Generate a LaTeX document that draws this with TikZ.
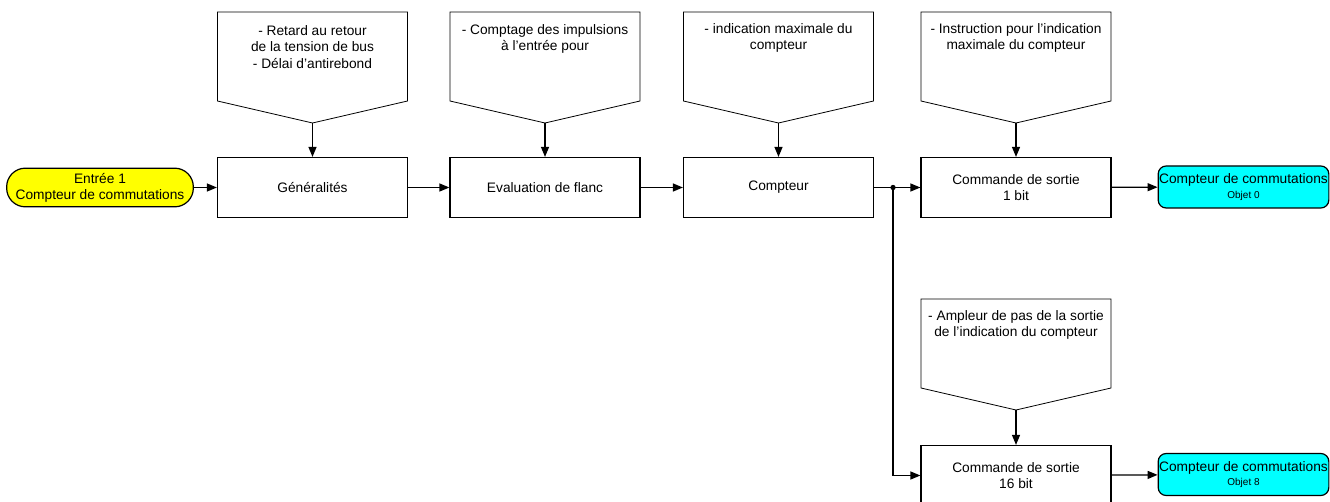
\documentclass[tikz,border=0pt]{standalone}
\usepackage{fontspec}
\setmainfont{Liberation Sans}
\usetikzlibrary{arrows.meta}
\definecolor{aqua}{RGB}{0,255,255}
\definecolor{lemon}{RGB}{255,255,0}

\tikzset{
  blk/.style={draw, line width=0.9pt, minimum width=142.5pt, minimum height=45pt, inner sep=0pt, align=center, font=\fontsize{10.3}{12}\selectfont},
  note/.style={anchor=north, align=center, inner sep=0pt, font=\fontsize{10.3}{12.4}\selectfont},
  start/.style={draw, line width=0.9pt, fill=lemon, rounded corners=14pt, minimum width=140pt, minimum height=29pt, inner sep=0pt, align=center, font=\fontsize{10.3}{12}\selectfont},
  obj/.style={draw, line width=0.9pt, fill=aqua, rounded corners=6pt, minimum width=128pt, minimum height=31.5pt, inner sep=0pt, align=center, font=\fontsize{10.3}{11}\selectfont},
  arr/.style={-{Triangle[length=7.5pt,width=6pt]}, line width=0.9pt}
}

\begin{document}
\begin{tikzpicture}[x=0.75pt, y=-0.75pt]
\useasboundingbox (0,0) rectangle (1330,502);

\node[start] (in) at (100,187.5) {Entrée 1\\Compteur de commutations};
\node[blk] (gen) at (312.5,187.5) {Généralités};
\node[blk] (flk) at (545,187.5) {Evaluation de flanc};
\node[blk] (cpt) at (778.5,187.5) {Compteur};
\node[blk] (cmd1) at (1016,187.5) {Commande de sortie\\1 bit};
\node[blk] (cmd16) at (1016,475.5) {Commande de sortie\\16 bit};
\node[obj] (o0) at (1243.5,187) {Compteur de commutations\\{\fontsize{7.5}{9}\selectfont Objet 0}};
\node[obj] (o8) at (1243.5,474.5) {Compteur de commutations\\{\fontsize{7.5}{9}\selectfont Objet 8}};

\foreach \cx/\ty/\nm in {312.5/12/p1, 545/12/p2, 778.5/12/p3, 1016/12/p4, 1016/299/p5}{
  \draw[line width=0.6pt] (\cx-95,\ty) -- (\cx+95,\ty) -- (\cx+95,\ty+89) -- (\cx,\ty+111) -- (\cx-95,\ty+89) -- cycle;
  \coordinate (\nm) at (\cx,\ty+111);
}

\node[note] (t1) at (312.5,25) {- Retard au retour\\de la tension de bus\\- Délai d’antirebond};
\node[note] (t2) at (545,24) {- Comptage des impulsions\\à l’entrée pour};
\node[note] (t3) at (778.5,23) {- indication maximale du\\compteur};
\node[note] (t4) at (1016,23) {- Instruction pour l'indication\\maximale du compteur};
\node[note] (t5) at (1016,310) {- Ampleur de pas de la sortie\\de l’indication du compteur};

\coordinate (j) at (893,187.5);

\draw[arr] (in) -- (gen);
\draw[arr] (gen) -- (flk);
\draw[arr] (flk) -- (cpt);
\draw[line width=0.9pt] (cpt) -- (j);
\draw[arr] (j) -- (cmd1);
\draw[arr] (j) |- (cmd16);
\fill (j) circle (2pt);
\draw[arr] (cmd1) -- (o0);
\draw[arr] (cmd16) -- (o8);

\draw[arr] (p1) -- (gen);
\draw[arr] (p2) -- (flk);
\draw[arr] (p3) -- (cpt);
\draw[arr] (p4) -- (cmd1);
\draw[arr] (p5) -- (cmd16);
\end{tikzpicture}
\end{document}
